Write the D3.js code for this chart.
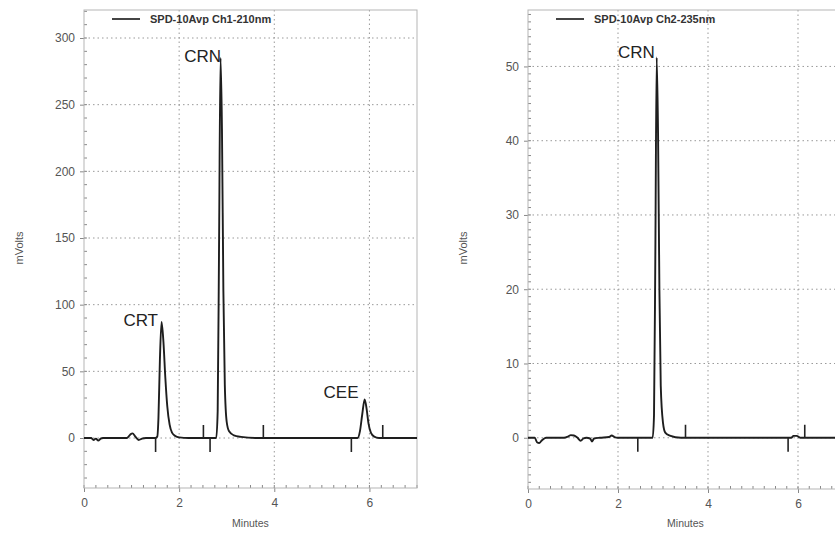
<!DOCTYPE html>
<html>
<head>
<meta charset="utf-8">
<script src="https://cdn.jsdelivr.net/npm/d3@7"></script>
<style>
  body { margin: 0; background: #fff; }
  svg { display: block; font-family: "Liberation Sans", Arial, sans-serif; }
</style>
</head>
<body>
<div class="chart"></div>
<script>
const width = 835;
const height = 536;

// channel 1 (210 nm) trace, [minutes, mV]
const traceCh1 = [
    [0, 0], [0.15, 0], [0.2, -1.5], [0.25, -0.5], [0.3, -2], [0.35, -0.5], [0.4, 0],
    [0.9, 0], [0.97, 2.5], [1.02, 3.5], [1.08, 1], [1.15, -1.5], [1.22, -0.5], [1.3, 0],
    [1.5, 0], [1.54, 1], [1.565, 15], [1.595, 58], [1.63, 87], [1.67, 72], [1.71, 45],
    [1.75, 24], [1.8, 10], [1.85, 4], [1.92, 1.5], [2.0, 0.5], [2.2, 0],
    [2.78, 0], [2.81, 20], [2.84, 150], [2.87, 285], [2.9, 232], [2.93, 110],
    [2.96, 40], [3.0, 12], [3.05, 5], [3.15, 2], [3.3, 0.8], [3.6, 0],
    [5.75, 0], [5.8, 5], [5.85, 18], [5.9, 29], [5.94, 22], [5.98, 11], [6.03, 4],
    [6.1, 1], [6.2, 0], [7, 0]
];
// channel 2 (235 nm) trace, [minutes, mV]
const traceCh2 = [
    [0, 0], [0.15, 0], [0.2, -0.6], [0.25, -0.7], [0.3, -0.4], [0.4, 0],
    [0.8, 0], [0.9, 0.2], [0.95, 0.35], [1.02, 0.3], [1.1, 0], [1.17, -0.4],
    [1.23, -0.1], [1.3, 0], [1.38, -0.1], [1.42, -0.5], [1.47, -0.1], [1.6, 0],
    [1.8, 0.1], [1.86, 0.3], [1.92, 0.1], [2.0, 0],
    [2.77, 0], [2.8, 3], [2.83, 25], [2.86, 51.2], [2.89, 41], [2.92, 20],
    [2.95, 7], [3.0, 2], [3.05, 0.7], [3.15, 0.3], [3.4, 0],
    [5.85, 0], [5.9, 0.25], [5.97, 0.25], [6.05, 0], [7, 0]
];

// integration event marks (minutes)
const marksUpCh1 = [2.51, 3.77, 6.28];
const marksDownCh1 = [1.505, 2.65, 5.62];
const marksUpCh2 = [3.5, 6.15];
const marksDownCh2 = [2.44, 5.78];

// peak labels: text ends at [minutes, mV]
const labelsCh1 = [
    { name: "CRT", t: 1.556, mv: 83.7 },
    { name: "CRN", t: 2.88, mv: 282 },
    { name: "CEE", t: 5.77, mv: 30 }
];
const labelsCh2 = [
    { name: "CRN", t: 2.82, mv: 51.1 }
];

const xTicks = [0, 2, 4, 6];
const yTicksCh1 = [0, 50, 100, 150, 200, 250, 300];
const yTicksCh2 = [0, 10, 20, 30, 40, 50];

const svg = d3.select(".chart")
    .append("svg")
    .attr("width", width)
    .attr("height", height);

function drawPanel(opts) {
    let g = svg.append("g");
    let xScale = d3.scaleLinear().domain([0, 7]).range([opts.left, opts.right]);
    let yScale = d3.scaleLinear().domain(opts.yDomain).range([opts.bottom, opts.top]);

    // dotted grid
    g.append("g")
        .selectAll("line")
        .data(xTicks.filter((d) => d > 0))
        .enter()
        .append("line")
        .attr("x1", (d) => xScale(d))
        .attr("x2", (d) => xScale(d))
        .attr("y1", opts.top)
        .attr("y2", opts.bottom)
        .attr("stroke", "#999")
        .attr("stroke-dasharray", "1.5,3");
    g.append("g")
        .selectAll("line")
        .data(opts.yTicks)
        .enter()
        .append("line")
        .attr("x1", opts.left)
        .attr("x2", opts.right)
        .attr("y1", (d) => yScale(d))
        .attr("y2", (d) => yScale(d))
        .attr("stroke", "#999")
        .attr("stroke-dasharray", "1.5,3");

    // minor ticks (inside the frame)
    let xMinor = d3.range(0, 7.001, 0.25);
    g.append("g")
        .selectAll("line")
        .data(xMinor)
        .enter()
        .append("line")
        .attr("x1", (d) => xScale(d))
        .attr("x2", (d) => xScale(d))
        .attr("y1", opts.bottom)
        .attr("y2", opts.bottom - 3)
        .attr("stroke", "#888");
    let yMinor = d3.range(Math.ceil(opts.yDomain[0] / opts.minorStep) * opts.minorStep,
        opts.yDomain[1], opts.minorStep);
    g.append("g")
        .selectAll("line")
        .data(yMinor)
        .enter()
        .append("line")
        .attr("x1", opts.left)
        .attr("x2", opts.left + 3)
        .attr("y1", (d) => yScale(d))
        .attr("y2", (d) => yScale(d))
        .attr("stroke", "#888");

    // axes
    let xAxis = d3.axisBottom(xScale).tickValues(xTicks).tickFormat(d3.format("d"))
        .tickSize(4).tickPadding(6);
    let gx = g.append("g")
        .attr("transform", "translate(0," + opts.bottom + ")")
        .call(xAxis);
    let yAxis = d3.axisLeft(yScale).tickValues(opts.yTicks).tickFormat(d3.format("d"))
        .tickSize(4).tickPadding(5);
    let gy = g.append("g")
        .attr("transform", "translate(" + opts.left + ",0)")
        .call(yAxis);
    [gx, gy].forEach((a) => {
        a.select(".domain").remove();
        a.selectAll(".tick line").attr("stroke", "#888");
        a.selectAll(".tick text")
            .attr("fill", "#555")
            .attr("font-size", 12)
            .attr("font-family", "'Liberation Sans', Arial, sans-serif");
    });

    // frame
    g.append("rect")
        .attr("x", opts.left)
        .attr("y", opts.top)
        .attr("width", opts.right - opts.left)
        .attr("height", opts.bottom - opts.top)
        .attr("fill", "none")
        .attr("stroke", "#b5b5b5");

    // trace
    let line = d3.line()
        .x((d) => xScale(d[0]))
        .y((d) => yScale(d[1]))
        .curve(d3.curveMonotoneX);
    g.append("path")
        .datum(opts.trace)
        .attr("d", line)
        .attr("fill", "none")
        .attr("stroke", "#1e1e1e")
        .attr("stroke-width", 1.9)
        .attr("stroke-linejoin", "round");

    // integration marks
    g.append("g")
        .selectAll("line")
        .data(opts.marksUp)
        .enter()
        .append("line")
        .attr("x1", (d) => xScale(d))
        .attr("x2", (d) => xScale(d))
        .attr("y1", yScale(0))
        .attr("y2", yScale(0) - 13)
        .attr("stroke", "#222")
        .attr("stroke-width", 1.6);
    g.append("g")
        .selectAll("line")
        .data(opts.marksDown)
        .enter()
        .append("line")
        .attr("x1", (d) => xScale(d))
        .attr("x2", (d) => xScale(d))
        .attr("y1", yScale(0))
        .attr("y2", yScale(0) + 14)
        .attr("stroke", "#222")
        .attr("stroke-width", 1.6);

    // peak labels
    g.append("g")
        .selectAll("text")
        .data(opts.labels)
        .enter()
        .append("text")
        .text((d) => d.name)
        .attr("x", (d) => xScale(d.t))
        .attr("y", (d) => yScale(d.mv))
        .attr("text-anchor", "end")
        .attr("font-size", 17)
        .attr("fill", "#222");

    // legend
    g.append("line")
        .attr("x1", opts.left + 28)
        .attr("x2", opts.left + 56)
        .attr("y1", 19)
        .attr("y2", 19)
        .attr("stroke", "#444")
        .attr("stroke-width", 2);
    g.append("text")
        .text(opts.legend)
        .attr("x", opts.left + 66)
        .attr("y", 23)
        .attr("font-size", 11)
        .attr("font-weight", "bold")
        .attr("fill", "#333");

    // axis titles
    g.append("text")
        .text("Minutes")
        .attr("text-anchor", "middle")
        .attr("x", (opts.left + opts.right) / 2)
        .attr("y", 527)
        .attr("font-size", 10.5)
        .attr("fill", "#555");
    g.append("text")
        .text("mVolts")
        .attr("text-anchor", "middle")
        .attr("x", -248)
        .attr("y", opts.left - 61)
        .attr("font-size", 11)
        .attr("fill", "#555")
        .attr("transform", "rotate(-90)");
}

drawPanel({
    left: 84, right: 417, top: 10, bottom: 488,
    yDomain: [-37.5, 321], yTicks: yTicksCh1, minorStep: 10,
    trace: traceCh1, marksUp: marksUpCh1, marksDown: marksDownCh1,
    labels: labelsCh1, legend: "SPD-10Avp Ch1-210nm"
});
drawPanel({
    left: 528, right: 843, top: 10, bottom: 489,
    yDomain: [-6.9, 57.6], yTicks: yTicksCh2, minorStep: 1,
    trace: traceCh2, marksUp: marksUpCh2, marksDown: marksDownCh2,
    labels: labelsCh2, legend: "SPD-10Avp Ch2-235nm"
});
</script>
</body>
</html>
